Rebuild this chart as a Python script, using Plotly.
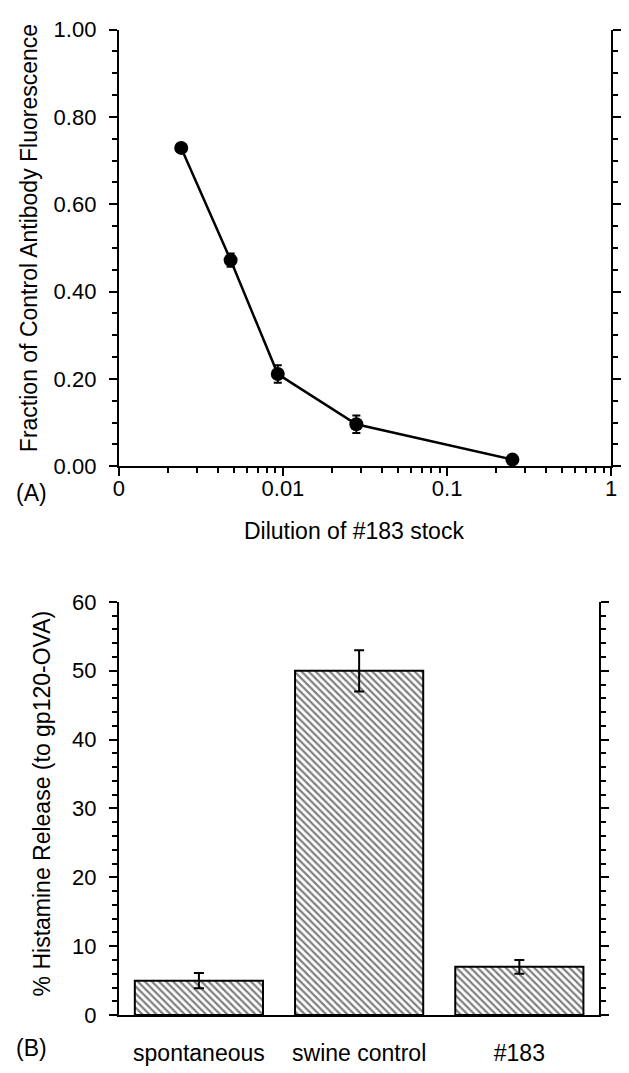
import plotly.graph_objects as go

# ---- Panel A data ----
dilution = [0.0024, 0.0048, 0.0093, 0.028, 0.25]
fraction = [0.729, 0.472, 0.211, 0.096, 0.015]
fraction_err = [0.006, 0.015, 0.02, 0.02, 0.005]
x_tickvals = [0.001, 0.01, 0.1, 1]
x_ticktext = ["0", "0.01", "0.1", "1"]
y_tickvals_a = [0, 0.2, 0.4, 0.6, 0.8, 1.0]

# ---- Panel B data ----
categories = ["spontaneous", "swine control", "#183"]
release = [5.0, 50.0, 7.0]
release_err = [1.1, 3.0, 1.0]

W, H = 629, 1073
FONT = "Liberation Sans, Arial, sans-serif"

def px(x):
    return x / W

def py(y):
    return (H - y) / H

minor_log = [m * 10 ** e for e in (-3, -2, -1) for m in range(2, 10)]

fig = go.Figure()

fig.add_trace(go.Scatter(
    x=dilution, y=fraction, mode="lines+markers",
    line=dict(color="black", width=2.5),
    marker=dict(color="black", size=14),
    error_y=dict(type="data", array=fraction_err, color="black", thickness=2, width=4),
    xaxis="x", yaxis="y", showlegend=False,
))

fig.add_trace(go.Bar(
    x=categories, y=release, width=0.8,
    marker=dict(color="white", line=dict(color="black", width=2),
                pattern=dict(shape="\\", fgcolor="black", bgcolor="white", size=5, solidity=0.45)),
    error_y=dict(type="data", array=release_err, color="black", thickness=2, width=5),
    xaxis="x2", yaxis="y2", showlegend=False,
))

axis_common = dict(showline=True, linecolor="black", linewidth=2, showgrid=False, zeroline=False,
                   ticks="outside", tickcolor="black", tickwidth=2, ticklen=8,
                   tickfont=dict(family=FONT, size=22, color="black"))

fig.update_layout(
    width=W, height=H,
    margin=dict(l=0, r=0, t=0, b=0),
    paper_bgcolor="white", plot_bgcolor="white",
    font=dict(family=FONT, color="black"),
    xaxis=dict(domain=[px(115), px(617)], type="log", range=[-3, 0],
               tickvals=x_tickvals, ticktext=x_ticktext, anchor="y",
               minor=dict(tickvals=minor_log, ticks="outside", ticklen=5, tickwidth=2, tickcolor="black"),
               ticklabelstandoff=-7, **axis_common),
    yaxis=dict(domain=[py(465), py(18)], range=[0, 1.0], tickvals=y_tickvals_a, tickformat=".2f",
               anchor="x", mirror="ticks",
               minor=dict(dtick=0.05, ticks="outside", ticklen=5, tickwidth=2, tickcolor="black"),
               ticklabelstandoff=8, **axis_common),
    xaxis2=dict(domain=[px(115), px(605)], type="category", range=[-0.5, 2.5], anchor="y2",
                showline=True, linecolor="black", linewidth=2, showgrid=False, zeroline=False,
                ticks="", ticklabelstandoff=16,
                tickfont=dict(family=FONT, size=23, color="black")),
    yaxis2=dict(domain=[py(1027), py(604)], range=[0, 60], dtick=10, anchor="x2", mirror="ticks",
                minor=dict(dtick=2, ticks="outside", ticklen=5, tickwidth=2, tickcolor="black"),
                ticklabelstandoff=8, **axis_common),
)

ann = dict(xref="paper", yref="paper", showarrow=False, font=dict(family=FONT, size=23, color="black"))
fig.add_annotation(text="Fraction of Control Antibody Fluorescence", x=px(23), y=py(232),
                   textangle=-90, xanchor="center", yanchor="middle", **ann)
fig.add_annotation(text="Dilution of #183 stock", x=px(355), y=py(531),
                   xanchor="center", yanchor="middle", **ann)
fig.add_annotation(text="% Histamine Release (to gp120-OVA)", x=px(37), y=py(810),
                   textangle=-90, xanchor="center", yanchor="middle", **ann)
fig.add_annotation(text="(A)", x=px(26), y=py(492), xanchor="center", yanchor="middle", **ann)
fig.add_annotation(text="(B)", x=px(26), y=py(1061), xanchor="center", yanchor="middle", **ann)

fig.write_html("out.html")
